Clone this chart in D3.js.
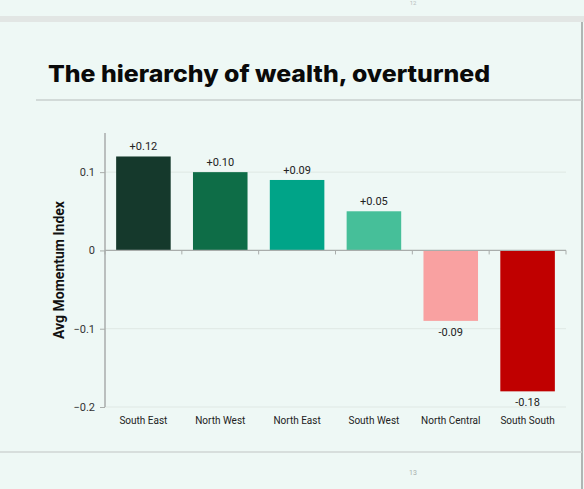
<!DOCTYPE html>
<html>
<head>
<meta charset="utf-8">
<script src="https://cdn.jsdelivr.net/npm/d3@7"></script>
<style>
  html, body { margin: 0; padding: 0; background: #eef8f5; }
  svg { display: block; }
</style>
</head>
<body>
<div id="chart"></div>
<script>
// --- data ---
const regions = ["South East", "North West", "North East", "South West", "North Central", "South South"];
const momentum = [0.12, 0.10, 0.09, 0.05, -0.09, -0.18];
const barColors = ["#15392c", "#0e6d47", "#00a488", "#46bf99", "#f9a1a1", "#c00000"];
const yTicks = [0.1, 0, -0.1, -0.2];

const W = 584, H = 489;
const plot = { left: 105, right: 566, top: 133, bottom: 407 };

const svg = d3.select("#chart").append("svg")
    .attr("width", W)
    .attr("height", H);

// slide frame
svg.append("rect").attr("x", 0).attr("y", 0).attr("width", W).attr("height", H).attr("fill", "#eef8f5");
svg.append("rect").attr("x", 0).attr("y", 16).attr("width", W).attr("height", 6).attr("fill", "#e2e6e4");
svg.append("line").attr("x1", 582).attr("x2", 582).attr("y1", 22).attr("y2", 489)
    .attr("stroke", "#9aa09e").attr("stroke-width", 1.5);
svg.append("line").attr("x1", 0).attr("x2", 582).attr("y1", 452).attr("y2", 452)
    .attr("stroke", "#cfd6d3").attr("stroke-width", 1.5);
svg.append("text").attr("x", 413).attr("y", 475).attr("text-anchor", "middle")
    .attr("font-family", "Roboto, sans-serif").attr("font-size", 7).attr("fill", "#a8b0ad").text("13");
svg.append("text").attr("x", 413).attr("y", 5).attr("text-anchor", "middle")
    .attr("font-family", "Roboto, sans-serif").attr("font-size", 6).attr("fill", "#b8c0bd").text("12");

// title
svg.append("text")
    .attr("x", 48).attr("y", 82)
    .attr("font-family", "Inter, 'Open Sans', sans-serif")
    .attr("font-weight", 800)
    .attr("font-size", 23)
    .attr("fill", "#0a0a0a")
    .attr("textLength", 442)
    .attr("lengthAdjust", "spacingAndGlyphs")
    .text("The hierarchy of wealth, overturned");
svg.append("line").attr("x1", 36).attr("x2", 582).attr("y1", 100).attr("y2", 100)
    .attr("stroke", "#c9d1ce").attr("stroke-width", 1.5);

// scales
const x = d3.scaleBand()
    .domain(regions)
    .range([plot.left, plot.right])
    .paddingInner(0.29)
    .paddingOuter(0.145);

const y = d3.scaleLinear()
    .domain([-0.2, 0.15])
    .range([plot.bottom, plot.top]);

// grid
svg.append("g")
    .selectAll("line")
    .data(yTicks.filter(d => d !== 0))
    .join("line")
        .attr("x1", plot.left).attr("x2", plot.right)
        .attr("y1", d => y(d)).attr("y2", d => y(d))
        .attr("stroke", "#dfe8e4").attr("stroke-width", 1);

// y axis
const yAxis = svg.append("g")
    .attr("transform", `translate(${plot.left},0)`)
    .call(d3.axisLeft(y).tickValues(yTicks).tickSize(5).tickPadding(5).tickFormat(d => d === 0 ? "0" : d3.format("")(d)));
yAxis.select(".domain").attr("stroke", "#a9adab").attr("stroke-width", 1.5)
    .attr("d", `M0,${plot.top}V${plot.bottom}`);
yAxis.selectAll(".tick line").attr("stroke", "#a9adab");
yAxis.selectAll(".tick text")
    .attr("font-family", "Roboto, sans-serif").attr("font-size", 11).attr("fill", "#333");

svg.append("text")
    .attr("transform", `translate(64,${(plot.top + plot.bottom) / 2}) rotate(-90)`)
    .attr("text-anchor", "middle")
    .attr("font-family", "Roboto, sans-serif")
    .attr("font-weight", 700)
    .attr("font-size", 14)
    .attr("fill", "#111")
    .text("Avg Momentum Index");

// bars
const data = regions.map((r, i) => ({ region: r, value: momentum[i], color: barColors[i] }));

svg.append("g")
    .selectAll("rect")
    .data(data)
    .join("rect")
        .attr("x", d => x(d.region))
        .attr("width", x.bandwidth())
        .attr("y", d => y(Math.max(0, d.value)))
        .attr("height", d => Math.abs(y(d.value) - y(0)))
        .attr("fill", d => d.color);

// value labels
svg.append("g")
    .selectAll("text")
    .data(data)
    .join("text")
        .attr("x", d => x(d.region) + x.bandwidth() / 2)
        .attr("y", d => d.value >= 0 ? y(d.value) - 6 : y(d.value) + 15)
        .attr("text-anchor", "middle")
        .attr("font-family", "Roboto, sans-serif")
        .attr("font-size", 11)
        .attr("fill", "#222")
        .text(d => (d.value >= 0 ? "+" : "") + d3.format(".2f")(d.value).replace("−", "-"));

// zero line with ticks between categories
const gap = (x.step() - x.bandwidth()) / 2;
const bounds = regions.map(r => x(r) - gap).concat([x(regions[regions.length - 1]) + x.bandwidth() + gap]);
svg.append("line")
    .attr("x1", plot.left).attr("x2", plot.right)
    .attr("y1", y(0)).attr("y2", y(0))
    .attr("stroke", "#a9adab").attr("stroke-width", 1.2);
svg.append("g")
    .selectAll("line")
    .data(bounds)
    .join("line")
        .attr("x1", d => d).attr("x2", d => d)
        .attr("y1", y(0)).attr("y2", y(0) + 4)
        .attr("stroke", "#a9adab");

// category labels
svg.append("g")
    .selectAll("text")
    .data(regions)
    .join("text")
        .attr("x", d => x(d) + x.bandwidth() / 2)
        .attr("y", 424)
        .attr("text-anchor", "middle")
        .attr("font-family", "Roboto, sans-serif")
        .attr("font-size", 10)
        .attr("fill", "#222")
        .text(d => d);
</script>
</body>
</html>
